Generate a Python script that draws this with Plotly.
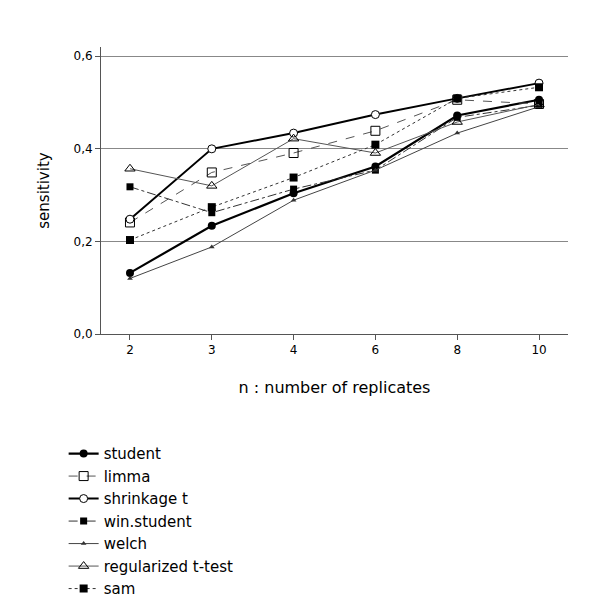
import plotly.graph_objects as go

n_labels = ["2", "3", "4", "6", "8", "10"]
student = [0.132, 0.234, 0.304, 0.362, 0.472, 0.506]
limma = [0.241, 0.349, 0.391, 0.439, 0.506, 0.497]
shrinkage = [0.248, 0.400, 0.434, 0.474, 0.509, 0.542]
win_student = [0.318, 0.262, 0.313, 0.354, 0.468, 0.494]
welch = [0.120, 0.188, 0.289, 0.354, 0.434, 0.491]
regularized = [0.357, 0.320, 0.422, 0.391, 0.458, 0.496]
sam = [0.203, 0.274, 0.338, 0.409, 0.509, 0.533]

series = [
    ("student", student, dict(color="black", width=2.2, dash="solid"), dict(symbol="circle", size=8, color="black")),
    ("limma", limma, dict(color="#555", width=1, dash="dash"), dict(symbol="square-open", size=9, color="black")),
    ("shrinkage t", shrinkage, dict(color="black", width=2, dash="solid"), dict(symbol="circle", size=8, color="white", line=dict(color="black", width=1))),
    ("win.student", win_student, dict(color="#333", width=1, dash="dashdot"), dict(symbol="square", size=7, color="black")),
    ("welch", welch, dict(color="#444", width=1, dash="solid"), dict(symbol="triangle-up", size=5, color="#333")),
    ("regularized t-test", regularized, dict(color="#555", width=1, dash="solid"), dict(symbol="triangle-up-open", size=9, color="black")),
    ("sam", sam, dict(color="#333", width=1, dash="dot"), dict(symbol="square", size=8, color="black")),
]

fig = go.Figure()
for name, vals, line, marker in series:
    fig.add_trace(go.Scatter(x=n_labels, y=vals, name=name, mode="lines+markers", line=line, marker=marker))

fig.update_layout(
    width=600, height=609, plot_bgcolor="white", paper_bgcolor="white",
    font=dict(family="DejaVu Sans", color="black", size=13),
    margin=dict(l=93, r=40, t=39, b=207),
    xaxis=dict(title=dict(text="n : number of replicates", font=dict(size=16), standoff=25), type="category",
               showline=True, linecolor="#555", ticks="outside", ticklen=5, tickcolor="#555", tickfont=dict(size=12)),
    yaxis=dict(title=dict(text="sensitivity", font=dict(size=15), standoff=20), range=[0, 0.62], dtick=0.2,
               tickformat=".1f", showgrid=True, gridcolor="#888",
               showline=True, linecolor="#555", ticks="outside", ticklen=5, tickcolor="#555", tickfont=dict(size=12)),
    separators=",.",
    legend=dict(orientation="h", x=-0.08, xanchor="left", y=-0.36, yanchor="top",
                entrywidth=240, entrywidthmode="pixels", font=dict(size=15),
                tracegroupgap=0, itemwidth=30),
)
fig.write_html("out.html")
